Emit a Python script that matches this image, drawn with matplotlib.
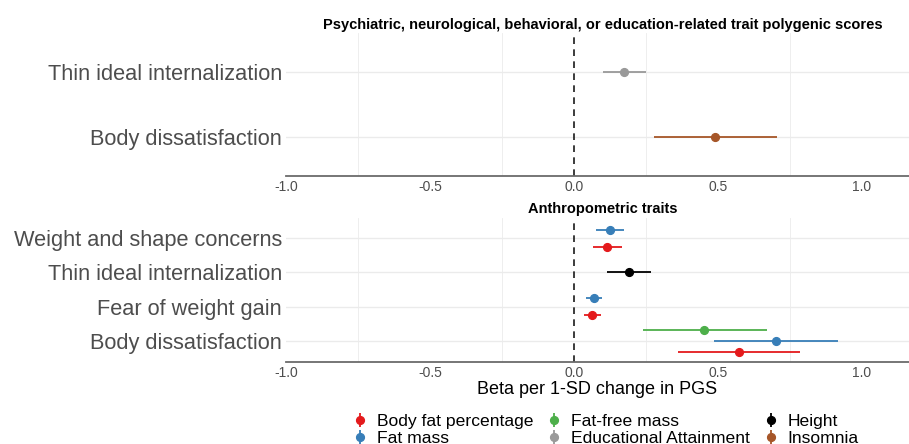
"""
Forest plot: PGS associations with body image outcomes.
Two panels (psychiatric/behavioral PGS, anthropometric PGS), shared legend.
Output: out.png
"""
import matplotlib
matplotlib.use("Agg")
import matplotlib.pyplot as plt
from matplotlib.lines import Line2D
from matplotlib.legend_handler import HandlerTuple

plt.rcParams["font.family"] = ["Liberation Sans", "DejaVu Sans"]

# ── data ──────────────────────────────────────────────
PGS_ORDER = ["Body fat percentage", "Fat mass", "Fat-free mass",
             "Educational Attainment", "Height", "Insomnia"]
COLORS = {
    "Body fat percentage": "#E41A1C",
    "Fat mass": "#377EB8",
    "Fat-free mass": "#4DAF4A",
    "Educational Attainment": "#999999",
    "Height": "#000000",
    "Insomnia": "#A65628",
}

# top panel (bottom -> top)
top_outcomes = ["Body dissatisfaction", "Thin ideal internalization"]
top_outcome = ["Thin ideal internalization", "Body dissatisfaction"]
top_pgs = ["Educational Attainment", "Insomnia"]
top_beta = [0.174, 0.488]
top_lo = [0.100, 0.278]
top_hi = [0.251, 0.704]

# bottom panel (bottom -> top)
bot_outcomes = ["Body dissatisfaction", "Fear of weight gain",
                "Thin ideal internalization", "Weight and shape concerns"]
bot_outcome = ["Weight and shape concerns", "Weight and shape concerns",
               "Thin ideal internalization",
               "Fear of weight gain", "Fear of weight gain",
               "Body dissatisfaction", "Body dissatisfaction", "Body dissatisfaction"]
bot_pgs = ["Fat mass", "Body fat percentage",
           "Height",
           "Fat mass", "Body fat percentage",
           "Fat-free mass", "Fat mass", "Body fat percentage"]
bot_beta = [0.124, 0.116, 0.190, 0.071, 0.063, 0.452, 0.700, 0.574]
bot_lo = [0.075, 0.066, 0.114, 0.042, 0.033, 0.240, 0.486, 0.362]
bot_hi = [0.174, 0.166, 0.268, 0.098, 0.092, 0.669, 0.915, 0.784]

XTICKS = [-1.0, -0.5, 0.0, 0.5, 1.0]
XLIM = (-1.0, 1.163)

GRID = "#EBEBEB"
TXT = "#4D4D4D"


def dodge_positions(outcomes, outcome, pgs, width=1.0):
    """ggplot-like position_dodge: groups ordered by PGS_ORDER from the bottom."""
    ys = []
    for o, p in zip(outcome, pgs):
        grp = sorted({pp for oo, pp in zip(outcome, pgs) if oo == o},
                     key=PGS_ORDER.index)
        n = len(grp)
        i = grp.index(p)
        ys.append(outcomes.index(o) + 1 + (i - (n - 1) / 2) * width / n)
    return ys


def draw_panel(ax, outcomes, outcome, pgs, beta, lo, hi, title):
    ys = dodge_positions(outcomes, outcome, pgs)
    for y, p, b, l, h in zip(ys, pgs, beta, lo, hi):
        c = COLORS[p]
        ax.plot([l, h], [y, y], color=c, lw=1.3, solid_capstyle="butt", zorder=3)
        ax.plot([b], [y], "o", color=c, ms=5.6, zorder=4)

    ax.axvline(0, color="#1a1a1a", lw=1.2, ls=(0, (4, 3.2)), zorder=2)

    ax.set_xlim(*XLIM)
    ax.set_ylim(0.4, len(outcomes) + 0.6)
    ax.set_yticks(range(1, len(outcomes) + 1))
    ax.set_yticklabels(outcomes, fontsize=15.7, color=TXT)
    ax.set_xticks(XTICKS)
    ax.set_xticklabels([f"{v:.1f}" for v in XTICKS], fontsize=10, color=TXT)
    ax.tick_params(length=0)
    ax.tick_params(axis="x", pad=3)
    ax.tick_params(axis="y", pad=3)

    # only minor x grid lines are visible in the reference
    for xv in [-0.75, -0.25, 0.25, 0.75]:
        ax.axvline(xv, color=GRID, lw=0.6, zorder=0)
    for yv in range(1, len(outcomes) + 1):
        ax.axhline(yv, color=GRID, lw=1.0, zorder=0)

    for s in ["top", "right", "left"]:
        ax.spines[s].set_visible(False)
    ax.spines["bottom"].set_color("#6b6b6b")
    ax.spines["bottom"].set_linewidth(1.3)

    ax.set_title(title, fontsize=10.55, fontweight="bold", pad=3, x=0.508)


def main():
    fig = plt.figure(figsize=(9.09, 4.44), dpi=100)
    ax_top = fig.add_axes([0.3146, 0.6036, 0.6854, 0.322])
    ax_bot = fig.add_axes([0.3146, 0.1858, 0.6854, 0.324])

    draw_panel(ax_top, top_outcomes, top_outcome, top_pgs, top_beta, top_lo, top_hi,
               "Psychiatric, neurological, behavioral, or education-related trait polygenic scores")
    draw_panel(ax_bot, bot_outcomes, bot_outcome, bot_pgs, bot_beta, bot_lo, bot_hi,
               "Anthropometric traits")
    ax_bot.set_xlabel("Beta per 1-SD change in PGS", fontsize=13, labelpad=1)

    # legend keys: vertical pointrange (bar + dot overlaid)
    handles = []
    for p in PGS_ORDER:
        c = COLORS[p]
        bar = Line2D([], [], ls="none", marker="|", ms=10, mew=1.3, color=c)
        dot = Line2D([], [], ls="none", marker="o", ms=5.6, color=c)
        handles.append((bar, dot))

    fig.legend(handles, PGS_ORDER, handler_map={tuple: HandlerTuple(ndivide=1)},
               loc="center", bbox_to_anchor=(605 / 909, 1 - 429.5 / 444),
               ncol=3, frameon=False, fontsize=12.6, borderpad=0,
               handlelength=1.0, handletextpad=0.45, columnspacing=0.7,
               labelspacing=0.1)

    fig.savefig("out.png", dpi=100)


if __name__ == "__main__":
    main()
